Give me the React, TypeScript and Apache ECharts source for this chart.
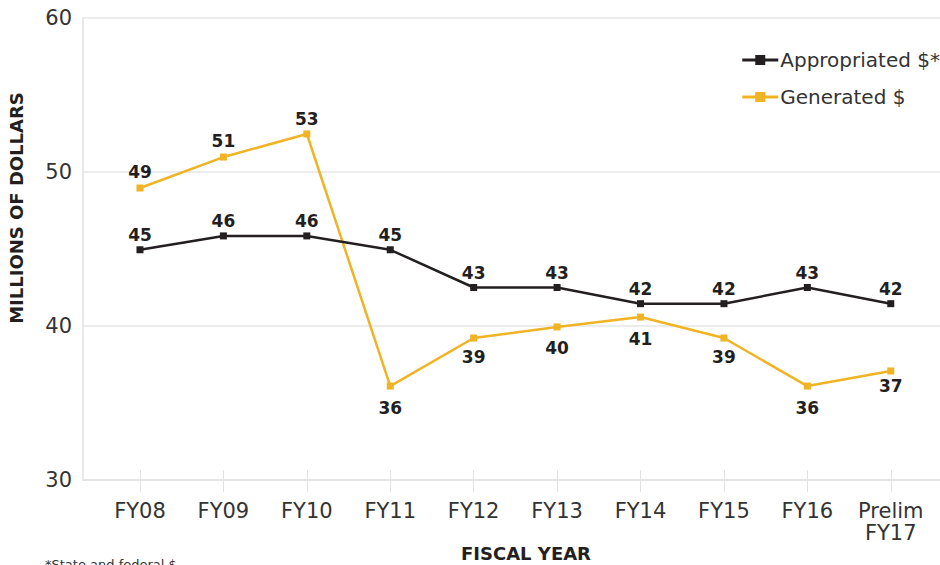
import React, { useEffect, useRef } from "react";
import * as echarts from "echarts";

const categories = ["FY08", "FY09", "FY10", "FY11", "FY12", "FY13", "FY14", "FY15", "FY16", "Prelim\nFY17"];
const appropriated = [44.95, 45.85, 45.85, 44.95, 42.5, 42.5, 41.45, 41.45, 42.5, 41.45];
const appropriatedLabels = ["45", "46", "46", "45", "43", "43", "42", "42", "43", "42"];
const generated = [48.96, 50.97, 52.47, 36.1, 39.22, 39.94, 40.58, 39.22, 36.1, 37.08];
const generatedLabels = ["49", "51", "53", "36", "39", "40", "41", "39", "36", "37"];
const generatedLabelAbove = [true, true, true, false, false, false, false, false, false, false];
const generatedLabelGap = [4, 4, 3, 10, 7, 9, 10, 7, 10, 3];
const yTicks = [30, 40, 50, 60];

const FONT = "DejaVu Sans";
const DARK = "#231f20";
const GOLD = "#f0b323";
const AXIS = "#e2e2e2";

export default function App() {
  const ref = useRef<HTMLDivElement>(null);
  useEffect(() => {
    document.body.style.margin = "0";
    const chart = echarts.init(ref.current!, null, { renderer: "svg" });
    const idx = categories.map((_, i) => i);
    const labelStyle = { show: true, fontFamily: FONT, fontWeight: "bold" as const, fontSize: 17, color: DARK };
    const legendIcon = "path://M0,3.5h13v-3.5h10v3.5h13v3h-13v3.5h-10v-3.5h-13z";
    chart.setOption({
      animation: false,
      grid: { left: 83, right: 0, top: 18, bottom: 85, outerBoundsMode: "none" },
      legend: {
        orient: "vertical",
        right: -5,
        top: 45,
        itemWidth: 36,
        itemHeight: 10,
        itemGap: 17,
        textStyle: { fontFamily: FONT, fontSize: 20, color: "#333", padding: [0, 0, 0, -3] },
        data: [
          { name: "Appropriated $*", icon: legendIcon, itemStyle: { color: DARK } },
          { name: "Generated $", icon: legendIcon, itemStyle: { color: GOLD } },
        ],
      },
      xAxis: [
        {
          type: "value",
          min: -0.683,
          max: 9.59,
          axisLine: { show: true, onZero: false, lineStyle: { color: AXIS, width: 1.5 } },
          splitLine: { show: false },
          axisTick: { show: true, customValues: idx, length: 12, lineStyle: { color: AXIS } },
          axisLabel: {
            customValues: idx,
            formatter: (v: number) => categories[Math.round(v)],
            fontFamily: FONT,
            fontSize: 21,
            color: "#333",
            margin: 20,
            lineHeight: 22,
            verticalAlign: "top",
          },
        },
        {
          type: "value",
          position: "bottom",
          min: -0.683,
          max: 9.59,
          axisLine: { show: false, onZero: false },
          splitLine: { show: false },
          axisTick: { show: true, inside: true, customValues: idx, length: 10, lineStyle: { color: AXIS } },
          axisLabel: { show: false },
        },
      ],
      yAxis: {
        type: "value",
        min: 30,
        max: 60,
        interval: 10,
        axisLine: { show: true, onZero: false, lineStyle: { color: AXIS, width: 1.5 } },
        axisTick: { show: false },
        splitLine: { show: true, lineStyle: { color: "#e6e6e6", width: 1.5 } },
        axisLabel: {
          fontFamily: FONT,
          fontSize: 21,
          color: "#333",
          margin: 11,
          formatter: (v: number) => (yTicks.includes(v) ? String(v) : ""),
        },
      },
      series: [
        {
          name: "Appropriated $*",
          type: "line",
          data: appropriated.map((v, i) => ({
            value: [i, v],
            label: { ...labelStyle, position: "top", distance: 3, formatter: appropriatedLabels[i] },
          })),
          symbol: "rect",
          symbolSize: 7,
          color: DARK,
          lineStyle: { color: DARK, width: 2.5 },
          itemStyle: { color: DARK },
          z: 3,
        },
        {
          name: "Generated $",
          type: "line",
          data: generated.map((v, i) => ({
            value: [i, v],
            label: {
              ...labelStyle,
              position: generatedLabelAbove[i] ? "top" : "bottom",
              distance: generatedLabelGap[i],
              formatter: generatedLabels[i],
            },
          })),
          symbol: "rect",
          symbolSize: 7,
          color: GOLD,
          lineStyle: { color: GOLD, width: 2.5 },
          itemStyle: { color: GOLD },
          z: 2,
        },
      ],
      graphic: [
        {
          type: "text",
          x: 16,
          y: 208,
          rotation: Math.PI / 2,
          style: {
            text: "MILLIONS OF DOLLARS",
            fontFamily: FONT,
            fontWeight: "bold",
            fontSize: 18,
            fill: DARK,
            align: "center",
            verticalAlign: "middle",
          },
        },
        {
          type: "text",
          x: 526,
          y: 553,
          style: {
            text: "FISCAL YEAR",
            fontFamily: FONT,
            fontWeight: "bold",
            fontSize: 18,
            fill: DARK,
            align: "center",
            verticalAlign: "middle",
          },
        },
        {
          type: "text",
          left: 45,
          top: 558,
          style: { text: "*State and federal $", fontFamily: FONT, fontSize: 13, fill: "#333" },
        },
      ],
    });
    return () => chart.dispose();
  }, []);
  return <div ref={ref} style={{ width: 940, height: 565 }} />;
}
